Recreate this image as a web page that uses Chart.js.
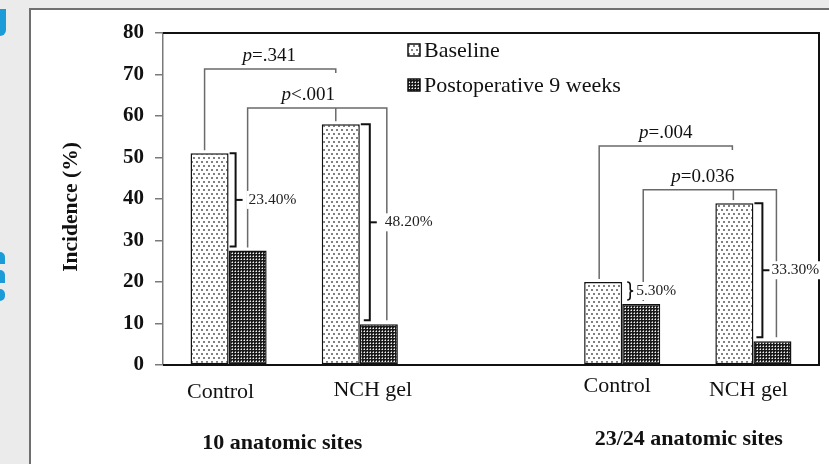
<!DOCTYPE html>
<html><head><meta charset="utf-8">
<script src="https://cdn.jsdelivr.net/npm/chart.js@4/dist/chart.umd.min.js"></script>
<style>
html,body{margin:0;padding:0;background:#ebebeb;width:829px;height:464px;overflow:hidden;}
#panel{position:absolute;left:29px;top:8px;width:830px;height:470px;background:#fff;border:2px solid #6f6f6f;box-sizing:border-box;}
.blue{position:absolute;background:#1b9bd8;}
#wrap{position:absolute;left:0;top:0;width:829px;height:464px;}
</style></head><body>
<div class="blue" style="left:0;top:9px;width:6px;height:27px;border-radius:0 0 6px 0"></div>
<div class="blue" style="left:0;top:252px;width:5px;height:12px;border-radius:0 6px 0 0"></div>
<div class="blue" style="left:0;top:270px;width:5px;height:13px;border-radius:0 6px 0 0"></div>
<div class="blue" style="left:0;top:289px;width:5px;height:12px;border-radius:0 6px 6px 0"></div>
<div id="panel"></div>
<div id="wrap"><canvas id="c" width="829" height="464"></canvas></div>
<script>
// ---- data ----
const categories = ['Control', 'NCH gel', '', 'Control', 'NCH gel'];
const seriesNames = ['Baseline', 'Postoperative 9 weeks'];
const baselineValues = [51, 58, null, 20, 39];
const postopValues = [27.6, 9.8, null, 14.7, 5.7];
const diffLabels = ['23.40%', '48.20%', null, '5.30%', '33.30%'];
const groupTitles = ['10 anatomic sites', '23/24 anatomic sites'];
const groupRanges = [[0, 1], [3, 4]];
const yMin = 0, yMax = 80, yStep = 10;
const yTitle = 'Incidence (%)';
// p-value comparisons: [category, series] pairs, p text, bracket level (in %)
const pComparisons = [
  { p: '=.341', a: [0, 0], b: [1, 0], level: 71.3 },
  { p: '<.001', a: [0, 1], b: [1, 1], level: 61.9, mid: [1, 0] },
  { p: '=.004', a: [3, 0], b: [4, 0], level: 52.8 },
  { p: '=0.036', a: [3, 1], b: [4, 1], level: 42.2, mid: [4, 0] }
];

// ---- styles ----
const SERIF = "'Liberation Serif','Times New Roman',serif";
const pStyle = [
  { dxA: -5, dxB: -5, down: false, tdx: -1 },
  { dxA: 0, dxB: 8, down: true, dxM: -5, tdx: -9 },
  { dxA: -4, dxB: -2, down: false, tdx: 0 },
  { dxA: 2, dxB: 4, down: true, dxM: -1, tdx: -7 }
];
const diffStyle = { 0: { dx: 7, tx: 13 }, 1: { dx: 10, tx: 15 }, 3: { brace: true }, 4: { dx: 9, tx: 9 } };
const groupDx = [-12, 1];
const groupDy = [443, 439];
const catLabelDx = [-8, 13, 0, -5, -5];
const catLabelY = [392, 390, 390, 386, 390];

function makePattern(kind) {
  const c = document.createElement('canvas');
  const g = c.getContext('2d');
  if (kind === 0) {
    c.width = 5; c.height = 8;
    g.fillStyle = '#fff'; g.fillRect(0, 0, 5, 8);
    g.fillStyle = '#808080';
    g.fillRect(1, 1, 2, 2); g.fillRect(3, 5, 2, 2);
  } else {
    c.width = 3; c.height = 3;
    g.fillStyle = '#1a1a1a'; g.fillRect(0, 0, 3, 3);
    g.fillStyle = '#f4f4f4'; g.fillRect(1, 1, 1, 1);
    g.fillStyle = '#8a8a8a'; g.fillRect(0, 1, 1, 1); g.fillRect(1, 0, 1, 1);
  }
  return g.createPattern(c, 'repeat');
}
const patterns = [makePattern(0), makePattern(1)];

function pText(ctx, p, cx, cy) {
  ctx.font = 'italic 19px ' + SERIF;
  const w1 = ctx.measureText('p').width;
  ctx.font = '19px ' + SERIF;
  const w2 = ctx.measureText(p).width;
  let x = cx - (w1 + w2) / 2;
  ctx.textAlign = 'left'; ctx.textBaseline = 'middle'; ctx.fillStyle = '#111';
  ctx.font = 'italic 19px ' + SERIF; ctx.fillText('p', x, cy);
  ctx.font = '19px ' + SERIF; ctx.fillText(p, x + w1, cy);
}

const annotations = {
  id: 'annotations',
  afterDatasetsDraw(chart) {
    const ctx = chart.ctx;
    const y = chart.scales.y;
    const xs = chart.scales.x;
    const el = (pair) => chart.getDatasetMeta(pair[1]).data[pair[0]];
    const area = chart.chartArea;
    ctx.save();
    // plot frame
    ctx.strokeStyle = '#111'; ctx.lineWidth = 2;
    ctx.beginPath();
    ctx.moveTo(area.left, area.top); ctx.lineTo(area.right, area.top);
    ctx.lineTo(area.right, area.bottom); ctx.lineTo(area.left, area.bottom);
    ctx.stroke();

    // category labels
    categories.forEach((lab, i) => {
      if (!lab) return;
      ctx.font = '22px ' + SERIF; ctx.fillStyle = '#111';
      ctx.textAlign = 'center'; ctx.textBaseline = 'middle';
      ctx.fillText(lab, xs.getPixelForValue(i) + catLabelDx[i], catLabelY[i]);
    });

    // p-value brackets
    pComparisons.forEach((c, k) => {
      const s = pStyle[k];
      const A = el(c.a), B = el(c.b);
      const xA = A.x + s.dxA, xB = B.x + s.dxB, yL = y.getPixelForValue(c.level);
      ctx.strokeStyle = '#6a6a6a'; ctx.lineWidth = 1.5;
      ctx.beginPath();
      ctx.moveTo(xA, A.y - 3); ctx.lineTo(xA, yL); ctx.lineTo(xB, yL);
      ctx.lineTo(xB, s.down ? B.y - 4 : yL + 4);
      ctx.stroke();
      if (c.mid) {
        const M = el(c.mid);
        ctx.beginPath();
        ctx.moveTo(M.x + s.dxM, yL); ctx.lineTo(M.x + s.dxM, M.y - 3);
        ctx.stroke();
      }
      pText(ctx, c.p, (xA + xB) / 2 + s.tdx, yL - 13);
    });

    // difference brackets
    diffLabels.forEach((lab, i) => {
      if (!lab) return;
      const s = diffStyle[i];
      const Bb = el([i, 0]), Bp = el([i, 1]);
      const right = Bb.x + Bb.width / 2;
      const yTop = Bb.y, yBot = Bp.y - 4, yMid = (yTop + yBot) / 2;
      ctx.strokeStyle = '#111'; ctx.lineWidth = 2;
      ctx.font = '15.5px ' + SERIF;
      const tw = ctx.measureText(lab).width;
      let tx;
      if (s.brace) {
        const x0 = right + 5;
        tx = x0 + 9;
        ctx.fillStyle = '#fff';
        ctx.fillRect(tx - 2, yMid - 9, tw + 4, 18);
        ctx.lineWidth = 1.6;
        ctx.beginPath();
        ctx.moveTo(x0, yTop);
        ctx.quadraticCurveTo(x0 + 3, yTop, x0 + 3, yTop + 3);
        ctx.lineTo(x0 + 3, yMid - 2);
        ctx.quadraticCurveTo(x0 + 3, yMid, x0 + 6, yMid);
        ctx.quadraticCurveTo(x0 + 3, yMid, x0 + 3, yMid + 2);
        ctx.lineTo(x0 + 3, yBot - 3);
        ctx.quadraticCurveTo(x0 + 3, yBot, x0, yBot);
        ctx.stroke();
      } else {
        const x = right + s.dx;
        tx = x + s.tx;
        ctx.fillStyle = '#fff';
        ctx.fillRect(tx - 2, yMid - 9, tw + 4, 18);
        ctx.beginPath();
        ctx.moveTo(right + 1, yTop); ctx.lineTo(x, yTop); ctx.lineTo(x, yBot); ctx.lineTo(x - 6, yBot);
        ctx.stroke();
        ctx.beginPath(); ctx.moveTo(x, yMid); ctx.lineTo(x + 7, yMid); ctx.stroke();
      }
      ctx.fillStyle = '#222'; ctx.textAlign = 'left'; ctx.textBaseline = 'middle';
      ctx.fillText(lab, tx, yMid);
    });

    // legend
    seriesNames.forEach((n, k) => {
      const by = 44 + k * 35;
      ctx.fillStyle = patterns[k];
      ctx.fillRect(408, by, 12, 12);
      ctx.strokeStyle = '#111'; ctx.lineWidth = 1.5;
      ctx.strokeRect(408, by, 12, 12);
      ctx.fillStyle = '#111'; ctx.font = '22px ' + SERIF;
      ctx.textAlign = 'left'; ctx.textBaseline = 'middle';
      ctx.fillText(n, 424, by + 7);
    });

    // y title
    ctx.save();
    ctx.translate(71, 207); ctx.rotate(-Math.PI / 2);
    ctx.font = 'bold 21.5px ' + SERIF; ctx.fillStyle = '#111';
    ctx.textAlign = 'center'; ctx.textBaseline = 'middle';
    ctx.fillText(yTitle, 0, 0);
    ctx.restore();

    // group titles
    groupTitles.forEach((t, g) => {
      const cx = (xs.getPixelForValue(groupRanges[g][0]) + xs.getPixelForValue(groupRanges[g][1])) / 2 + groupDx[g];
      ctx.font = 'bold 22px ' + SERIF; ctx.fillStyle = '#111';
      ctx.textAlign = 'center'; ctx.textBaseline = 'middle';
      ctx.fillText(t, cx, groupDy[g]);
    });
    ctx.restore();
  }
};

new Chart(document.getElementById('c'), {
  type: 'bar',
  data: {
    labels: categories,
    datasets: [
      { label: seriesNames[0], data: baselineValues, backgroundColor: patterns[0], borderColor: '#111', borderWidth: 1.5, borderSkipped: false },
      { label: seriesNames[1], data: postopValues, backgroundColor: patterns[1], borderColor: '#111', borderWidth: 1.5, borderSkipped: false }
    ]
  },
  options: {
    responsive: false,
    animation: false,
    events: [],
    layout: { padding: { left: 0, top: 33, right: 10, bottom: 0 } },
    datasets: { bar: { categoryPercentage: 0.58, barPercentage: 1.0 } },
    plugins: { legend: { display: false }, tooltip: { enabled: false } },
    scales: {
      x: {
        grid: { display: false, drawTicks: false },
        border: { display: false },
        ticks: { display: false },
        afterFit(s) { s.height = 99; }
      },
      y: {
        min: yMin, max: yMax,
        ticks: { stepSize: yStep, color: '#111', font: { family: SERIF, size: 21, weight: 'bold' }, padding: 11 },
        grid: { drawOnChartArea: false, drawTicks: true, tickLength: 8, color: '#7a7a7a', lineWidth: 1.5 },
        border: { display: true, color: '#7a7a7a', width: 1.5 },
        afterFit(s) { s.width = 163; }
      }
    }
  },
  plugins: [annotations]
});
</script>
</body></html>
